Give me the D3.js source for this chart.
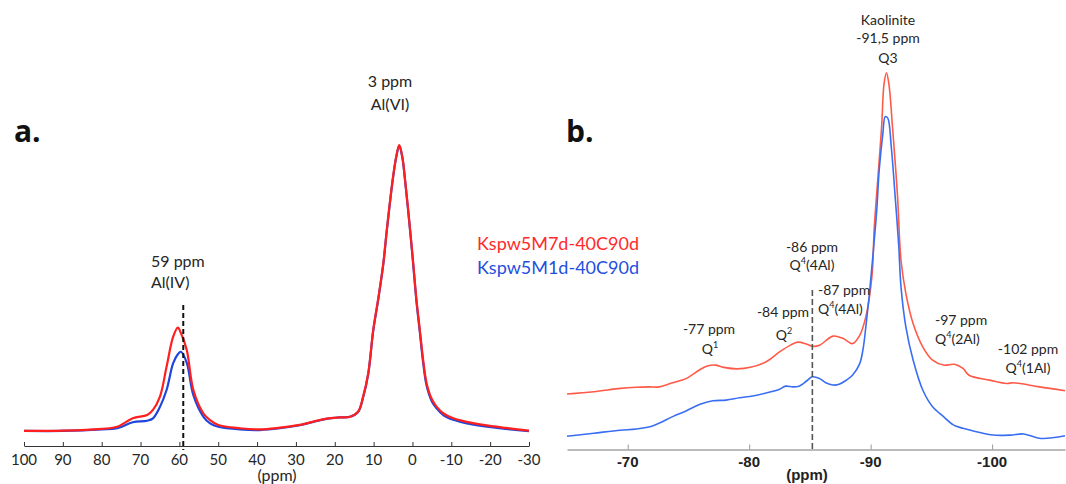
<!DOCTYPE html>
<html><head><meta charset="utf-8">
<script src="https://cdn.jsdelivr.net/npm/d3@7"></script>
<style>
html,body{margin:0;padding:0;background:#fff;}
svg{display:block;}
</style></head>
<body>
<svg id="chart" width="1066" height="484"></svg>
<script>
// ---------- Panel a: 27Al NMR ----------
const aPpm = [100, 90, 80, 76, 72, 68.3, 66.8, 65, 63.3, 61.6, 60.4, 59.6, 58.1, 56.4, 53.8, 52.1, 50, 44.4, 39.3, 34.1, 29, 25.5, 22.1, 18.7, 16.1, 14, 12.7, 11.4, 10.1, 8.8, 7.5, 6.6, 5.1, 4.2, 3.4, 2.6, 1.9, 0.6, -0.2, -1.0, -1.9, -2.8, -3.65, -5, -6.2, -8, -10.5, -14, -18.2, -24, -30];
const aRed = [5.0, 5.1, 5.7, 6.4, 9.2, 10.3, 12, 16.4, 26.3, 36.3, 39.3, 37.5, 31.9, 18.6, 10.8, 8.6, 7.0, 5.9, 5.5, 6.1, 7.0, 8.1, 9.1, 9.5, 9.7, 11.4, 16.4, 24, 38.5, 49, 60.7, 71.8, 88.4, 96, 100, 96, 88.4, 71.8, 60.7, 49, 38.5, 28, 20.8, 15.5, 13.1, 10.8, 9.2, 8.0, 7.0, 6.0, 5.1];
const aBlue = [5.0, 5.0, 5.5, 5.9, 7.9, 8.4, 9.2, 13, 18.6, 27.5, 30.5, 31.3, 27.6, 16.9, 9.7, 7.5, 6.4, 5.5, 5.3, 5.9, 6.9, 8.0, 9.0, 9.5, 9.7, 11.3, 16.2, 23.8, 38.3, 48.8, 60.5, 71.6, 88.2, 95.8, 99.8, 95.8, 88.2, 71.4, 60.2, 48.4, 37.8, 27.2, 20.0, 14.8, 12.5, 10.2, 8.7, 7.5, 6.6, 5.7, 4.9];
const aTicks = [100, 90, 80, 70, 60, 50, 40, 30, 20, 10, 0, -10, -20, -30];
const aMarker = 59;

// ---------- Panel b: 29Si NMR ----------
const bRedPpm = [-65, -67.2, -69.4, -70.7, -71.8, -72.6, -73.7, -74.8, -75.9, -76.5, -77.2, -77.9, -79, -80.1, -81.4, -82.5, -83.4, -84, -84.7, -85.2, -85.8, -86.9, -87.7, -88.5, -89.1, -89.6, -90.1, -90.3, -90.6, -90.9, -91.1, -91.3, -91.5, -91.8, -92.2, -92.5, -92.9, -93.5, -94.3, -95.1, -96.0, -96.9, -97.6, -98.1, -99.8, -101.2, -101.7, -102.3, -103.9, -106];
const bRed = [14.6, 15.2, 16.1, 16.4, 16.5, 16.5, 17.6, 18.7, 21, 22, 22.3, 21.7, 21.3, 21.7, 23.2, 25.8, 27.6, 28.4, 27.9, 27.3, 27.6, 30, 29.4, 28, 30.2, 35.1, 45.7, 59, 72.2, 85.5, 97, 100, 97, 85.5, 67.8, 50.1, 41.3, 33.3, 27.1, 23.6, 22.3, 22.5, 21.4, 19.6, 18.3, 17.4, 17.6, 17.4, 16.5, 15.5];
const bBluePpm = [-65, -67.2, -69.4, -70.7, -72.1, -73.7, -74.8, -75.9, -77.0, -78.1, -79.2, -80.3, -81.4, -82.5, -83.0, -83.6, -84.1, -84.7, -85.2, -85.8, -86.3, -86.9, -87.4, -88.0, -88.5, -89.1, -89.4, -89.6, -89.9, -90.2, -90.5, -90.7, -91.0, -91.2, -91.4, -91.7, -92.0, -92.3, -92.5, -92.9, -93.5, -94.3, -95.1, -96.0, -96.8, -97.6, -98.7, -100.1, -101.5, -102.6, -104, -106];
const bBlue = [3.4, 4.2, 5.0, 5.3, 6.2, 8.6, 10.1, 11.8, 12.8, 13.0, 13.6, 14.1, 14.9, 15.9, 16.7, 16.5, 16.7, 18.0, 19.2, 18.7, 17.6, 17.0, 17.2, 18.3, 19.6, 22.7, 27.1, 32.4, 41.3, 51.9, 63.4, 74, 83.7, 88.3, 88, 80.2, 67.8, 54.6, 43, 32.4, 23.6, 15.6, 11.2, 8.6, 6.4, 5.5, 4.6, 3.7, 3.7, 4.0, 2.8, 3.5];
const bTicks = [-70, -80, -90, -100];
const bMarker = -85.2;

const legendLabels = ["Kspw5M7d-40C90d", "Kspw5M1d-40C90d"];

// ---------- drawing ----------
const svg = d3.select("#chart");
const txt = "#262626";

// Panel a scales
const xa = d3.scaleLinear().domain([100, -30]).range([24, 529]);
const ya = d3.scaleLinear().domain([0, 100]).range([446, 145]);

const axA = svg.append("g").attr("transform", "translate(0,446)")
  .call(d3.axisTop(xa).tickValues(aTicks).tickSize(4).tickSizeOuter(0).tickFormat(""));
axA.select(".domain").attr("stroke", "#333").attr("stroke-width", 1);
axA.selectAll(".tick line").attr("stroke", "#333");
svg.append("g").selectAll("text").data(aTicks).join("text")
  .attr("x", d => xa(d)).attr("y", 465).attr("text-anchor", "middle")
  .attr("font-family", "Lato, sans-serif").attr("font-size", 15).attr("fill", txt)
  .text(d => d);
svg.append("text").attr("x", 277).attr("y", 481).attr("text-anchor", "middle")
  .attr("font-family", "Lato, sans-serif").attr("font-size", 16).attr("fill", txt).text("(ppm)");

const lineA = (ys) => d3.line().x((d, i) => xa(aPpm[i])).y((d) => ya(d)).curve(d3.curveCatmullRom.alpha(0.5))(ys);
svg.append("path").attr("d", lineA(aBlue)).attr("fill", "none").attr("stroke", "#1f45dc").attr("stroke-width", 2.2);
svg.append("path").attr("d", lineA(aRed)).attr("fill", "none").attr("stroke", "#ff1f1f").attr("stroke-width", 2.2);

svg.append("line").attr("x1", xa(aMarker)).attr("x2", xa(aMarker)).attr("y1", 305).attr("y2", 450)
  .attr("stroke", "#111").attr("stroke-width", 2).attr("stroke-dasharray", "5,3");

svg.append("text").attr("x", 14).attr("y", 142).attr("font-family", "'Open Sans', sans-serif")
  .attr("font-weight", "bold").attr("font-size", 30).attr("fill", "#111").text("a.");

const annA = [
  {x: 151, y: 267, t: "59 ppm", a: "start"},
  {x: 151, y: 288, t: "Al(IV)", a: "start"},
  {x: 390, y: 87, t: "3 ppm", a: "middle"},
  {x: 390, y: 110, t: "Al(VI)", a: "middle"}
];
svg.append("g").selectAll("text").data(annA).join("text")
  .attr("x", d => d.x).attr("y", d => d.y).attr("text-anchor", d => d.a)
  .attr("font-family", "Lato, sans-serif").attr("font-size", 16).attr("fill", txt).text(d => d.t);

svg.append("text").attr("x", 477).attr("y", 250).attr("font-family", "Lato, sans-serif")
  .attr("font-size", 18).attr("fill", "#ff2a2a").text(legendLabels[0]);
svg.append("text").attr("x", 477).attr("y", 274).attr("font-family", "Lato, sans-serif")
  .attr("font-size", 18).attr("fill", "#1f4fe0").text(legendLabels[1]);

// Panel b scales
const xb = d3.scaleLinear().domain([-65, -106]).range([567, 1065]);
const yb = d3.scaleLinear().domain([0, 100]).range([449, 72.7]);

const axB = svg.append("g").attr("transform", "translate(0,449.5)")
  .call(d3.axisTop(xb).tickValues(bTicks).tickSize(5).tickSizeOuter(0).tickFormat(""));
axB.select(".domain").attr("stroke", "#777").attr("stroke-width", 1);
axB.selectAll(".tick line").attr("stroke", "#999");
svg.append("g").selectAll("text").data(bTicks).join("text")
  .attr("x", d => xb(d)).attr("y", 467).attr("text-anchor", "middle")
  .attr("font-family", "'Liberation Sans', Arial, sans-serif").attr("font-weight", "bold")
  .attr("font-size", 15).attr("fill", "#222").text(d => d);
svg.append("text").attr("x", 807).attr("y", 480).attr("text-anchor", "middle")
  .attr("font-family", "'Liberation Sans', Arial, sans-serif").attr("font-weight", "bold")
  .attr("font-size", 15).attr("fill", "#222").text("(ppm)");

const lineB = (px, ys) => d3.line().x((d, i) => xb(px[i])).y(d => yb(d)).curve(d3.curveCatmullRom.alpha(0.5))(ys);
svg.append("path").attr("d", lineB(bRedPpm, bRed)).attr("fill", "none").attr("stroke", "#ff5a48").attr("stroke-width", 1.6);
svg.append("path").attr("d", lineB(bBluePpm, bBlue)).attr("fill", "none").attr("stroke", "#3a6ef2").attr("stroke-width", 1.6);

svg.append("line").attr("x1", xb(bMarker)).attr("x2", xb(bMarker)).attr("y1", 290).attr("y2", 450)
  .attr("stroke", "#555").attr("stroke-width", 1.6).attr("stroke-dasharray", "6,3");

svg.append("text").attr("x", 566).attr("y", 142).attr("font-family", "'Open Sans', sans-serif")
  .attr("font-weight", "bold").attr("font-size", 30).attr("fill", "#111").text("b.");

// annotations with superscripts: parts [text, sup?]
const annB = [
  {x: 888, y: 25, a: "middle", p: [["Kaolinite"]]},
  {x: 888, y: 43, a: "middle", p: [["-91,5 ppm"]]},
  {x: 888, y: 63, a: "middle", p: [["Q3"]]},
  {x: 709, y: 334, a: "middle", p: [["-77 ppm"]]},
  {x: 710, y: 354, a: "middle", p: [["Q"], ["1", 1]]},
  {x: 783, y: 317, a: "middle", p: [["-84 ppm"]]},
  {x: 784, y: 340, a: "middle", p: [["Q"], ["2", 1]]},
  {x: 812, y: 252, a: "middle", p: [["-86 ppm"]]},
  {x: 812, y: 270, a: "middle", p: [["Q"], ["4", 1], ["(4Al)"]]},
  {x: 818, y: 295, a: "start", p: [["-87 ppm"]]},
  {x: 818, y: 314, a: "start", p: [["Q"], ["4", 1], ["(4Al)"]]},
  {x: 935, y: 325, a: "start", p: [["-97 ppm"]]},
  {x: 935, y: 344, a: "start", p: [["Q"], ["4", 1], ["(2Al)"]]},
  {x: 1028, y: 354, a: "middle", p: [["-102 ppm"]]},
  {x: 1028, y: 373, a: "middle", p: [["Q"], ["4", 1], ["(1Al)"]]}
];
const gB = svg.append("g");
annB.forEach(d => {
  const t = gB.append("text").attr("x", d.x).attr("y", d.y).attr("text-anchor", d.a)
    .attr("font-family", "Lato, sans-serif").attr("font-size", 14).attr("fill", txt);
  d.p.forEach((part, i) => {
    const ts = t.append("tspan").text(part[0]);
    if (part[1]) ts.attr("font-size", 9).attr("dy", -6);
    else if (i > 0 && d.p[i - 1][1]) ts.attr("dy", 6);
  });
});
</script>
</body></html>
